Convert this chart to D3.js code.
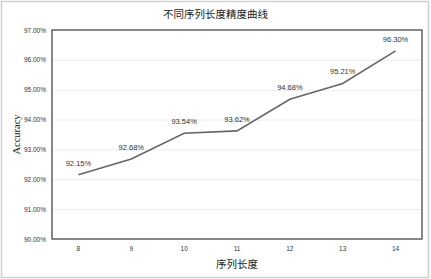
<!DOCTYPE html>
<html>
<head>
<meta charset="utf-8">
<script src="https://cdn.jsdelivr.net/npm/d3@7"></script>
<style>
  body { margin: 0; background: #fff; }
  svg { display: block; }
</style>
</head>
<body>
<svg id="chart" width="431" height="279"></svg>
<script>
// sequence lengths and accuracy (%)
var lengths = ["8", "9", "10", "11", "12", "13", "14"];
var accuracy = [92.15, 92.68, 93.54, 93.62, 94.68, 95.21, 96.30];
var yTicks = [90, 91, 92, 93, 94, 95, 96, 97];

var svg = d3.select("#chart");
var w = 431, h = 279;
var margin = { top: 30, right: 9, bottom: 40, left: 52 };
var width = w - margin.left - margin.right,
    height = h - margin.top - margin.bottom;

// outer frame
svg.append("rect")
    .attr("x", 1.5).attr("y", 1.5)
    .attr("width", w - 4).attr("height", h - 3)
    .attr("fill", "#fff")
    .attr("stroke", "#d0d0d0")
    .attr("stroke-width", 1.5);

var g = svg.append("g").attr("transform", "translate(" + margin.left + "," + margin.top + ")");

var x = d3.scaleBand().domain(lengths).range([0, width]);
var y = d3.scaleLinear().domain([90, 97]).range([height, 0]);

// gridlines
g.append("g")
    .selectAll("line")
    .data(yTicks.slice(1, -1))
    .enter().append("line")
    .attr("x1", 0).attr("x2", width)
    .attr("y1", function (d) { return y(d) + 0.5; })
    .attr("y2", function (d) { return y(d) + 0.5; })
    .attr("stroke", "#ececec")
    .attr("stroke-width", 1);

// y axis labels
var yAxis = g.append("g")
    .call(d3.axisLeft(y).tickValues(yTicks).tickSize(0).tickPadding(6)
        .tickFormat(function (d) { return d.toFixed(2) + "%"; }));
yAxis.select(".domain").remove();
yAxis.selectAll("text")
    .attr("font-family", "Liberation Sans, Arial, sans-serif")
    .attr("font-size", 6.5)
    .attr("fill", "#333");

// x axis labels
var xAxis = g.append("g")
    .attr("transform", "translate(0," + height + ")")
    .call(d3.axisBottom(x).tickSize(0).tickPadding(7));
xAxis.select(".domain").remove();
xAxis.selectAll("text")
    .attr("font-family", "Liberation Sans, Arial, sans-serif")
    .attr("font-size", 6.5)
    .attr("fill", "#333");

// plot frame
g.append("rect")
    .attr("x", 0).attr("y", 0)
    .attr("width", width).attr("height", height)
    .attr("fill", "none")
    .attr("stroke", "#3a3a3a")
    .attr("stroke-width", 1.2);

// line
var line = d3.line()
    .x(function (d, i) { return x(lengths[i]) + x.bandwidth() / 2; })
    .y(function (d) { return y(d); });

g.append("path")
    .datum(accuracy)
    .attr("d", line)
    .attr("fill", "none")
    .attr("stroke", "#666")
    .attr("stroke-width", 1.6);

// data labels
g.append("g")
    .selectAll("text")
    .data(accuracy)
    .enter().append("text")
    .attr("x", function (d, i) { return x(lengths[i]) + x.bandwidth() / 2; })
    .attr("y", function (d) { return y(d) - 9; })
    .attr("text-anchor", "middle")
    .attr("font-family", "Liberation Sans, Arial, sans-serif")
    .attr("font-size", 7.5)
    .attr("fill", "#333")
    .text(function (d) { return d.toFixed(2) + "%"; });

// titles
svg.append("text")
    .attr("x", w / 2).attr("y", 18)
    .attr("text-anchor", "middle")
    .attr("font-family", "Noto Sans CJK SC, sans-serif")
    .attr("font-size", 10.5)
    .attr("fill", "#222")
    .text("不同序列长度精度曲线");

svg.append("text")
    .attr("x", margin.left + width / 2).attr("y", 268)
    .attr("text-anchor", "middle")
    .attr("font-family", "Noto Sans CJK SC, sans-serif")
    .attr("font-size", 10.5)
    .attr("fill", "#222")
    .text("序列长度");

svg.append("text")
    .attr("transform", "translate(20," + (margin.top + height / 2) + ") rotate(-90)")
    .attr("text-anchor", "middle")
    .attr("font-family", "Liberation Serif, Times New Roman, serif")
    .attr("font-size", 10.5)
    .attr("fill", "#222")
    .text("Accuracy");
</script>
</body>
</html>
